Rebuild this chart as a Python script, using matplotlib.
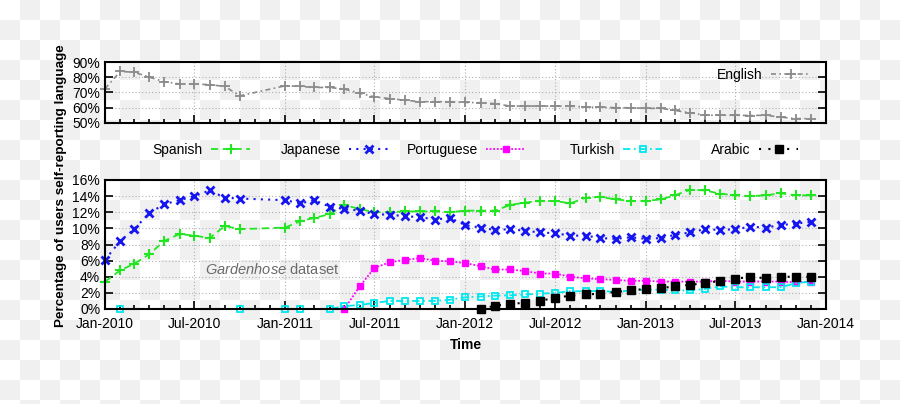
import numpy as np
import pandas as pd
import matplotlib
matplotlib.use("Agg")
import matplotlib.pyplot as plt
import matplotlib.dates as mdates
from matplotlib.ticker import MultipleLocator, FormatStrFormatter

plt.rcParams['font.family'] = ['Liberation Sans', 'DejaVu Sans']
plt.rcParams['mathtext.fontset'] = 'custom'
plt.rcParams['mathtext.it'] = 'Liberation Sans:italic'
plt.rcParams['mathtext.rm'] = 'Liberation Sans'

nan = np.nan
months = pd.date_range('2010-01-01', periods=48, freq='MS')

# monthly share (%) of users self-reporting each language
english = [72.5, 83.8, 83.3, 80.0, 77.1, 75.6, 75.6, 75.1, 74.0, 67.8, nan, nan,
           74.4, 74.0, 73.3, 73.3, 72.2, 69.6, 67.1, 66.0, 64.9, 64.0, 64.0, 63.8,
           63.5, 63.3, 62.7, 61.1, 61.1, 61.1, 61.1, 61.1, 60.4, 60.4, 60.0, 60.0,
           59.6, 59.6, 58.2, 56.7, 55.1, 55.1, 55.1, 54.9, 55.1, 53.8, 52.9, 52.9]
spanish = [3.4, 4.8, 5.6, 6.8, 8.45, 9.3, 9.1, 8.8, 10.3, 9.9, nan, nan,
           10.1, 10.9, 11.3, 11.75, 12.9, 12.4, 12.0, 12.0, 12.1, 12.1, 12.1, 12.0,
           12.2, 12.2, 12.2, 12.9, 13.2, 13.4, 13.4, 13.1, 13.8, 13.9, 13.6, 13.4,
           13.4, 13.6, 14.1, 14.8, 14.7, 14.3, 14.1, 14.0, 14.1, 14.35, 14.1, 14.1]
japanese = [6.1, 8.45, 9.9, 11.9, 13.0, 13.5, 14.0, 14.7, 13.8, 13.7, nan, nan,
            13.5, 13.1, 13.5, 12.7, 12.4, 12.2, 11.75, 11.7, 11.5, 11.4, 11.1, 11.3,
            10.4, 10.1, 9.8, 9.9, 9.7, 9.5, 9.4, 9.1, 9.1, 8.8, 8.7, 8.9,
            8.7, 8.8, 9.2, 9.5, 9.9, 9.8, 9.9, 10.2, 10.1, 10.4, 10.6, 10.8]
portuguese = [nan] * 16 + [
              0.0, 2.8, 5.1, 5.8, 6.1, 6.3, 6.0, 5.9,
              5.7, 5.3, 4.9, 4.9, 4.7, 4.4, 4.4, 4.0, 3.8, 3.7, 3.6, 3.5,
              3.5, 3.4, 3.4, 3.4, 3.4, 3.5, 3.4, 3.4, 3.4, 3.4, 3.3, 3.4]
turkish = [nan, 0.0, nan, nan, nan, nan, nan, nan, nan, 0.0, nan, nan,
           0.0, 0.0, nan, 0.0, 0.35, 0.5, 0.75, 1.0, 1.0, 1.0, 1.0, 1.15,
           1.45, 1.55, 1.65, 1.7, 1.8, 1.9, 2.0, 2.2, 2.2, 2.25, 2.1, 2.3,
           2.4, 2.4, 2.3, 2.3, 2.5, 2.8, 2.7, 2.7, 2.7, 2.7, 3.2, 3.4]
arabic = [nan] * 25 + [
          0.0, 0.4, 0.6, 0.8, 1.0, 1.4, 1.65, 1.8, 1.9, 2.1, 2.3,
          2.5, 2.6, 2.8, 3.0, 3.2, 3.5, 3.75, 4.0, 3.8, 4.0, 4.0, 4.0]

fig = plt.figure(figsize=(9, 4.04), dpi=100)

# transparent-background checkerboard seen in the reference
ckx = np.arange(900) // 20
cky = np.arange(404) // 20
board = np.where((ckx[None, :] + cky[:, None]) % 2 == 1, 0.94, 1.0)
fig.figimage(board, xo=0, yo=0, origin='upper', cmap='gray', vmin=0, vmax=1, zorder=-10)

ax1 = fig.add_axes([105 / 900, 1 - 123 / 404, 721 / 900, 61 / 404])
ax2 = fig.add_axes([105 / 900, 1 - 309 / 404, 721 / 900, 129 / 404])


def series(ax, vals, label, **kw):
    v = np.array(vals, dtype=float)
    ok = ~np.isnan(v)
    return ax.plot(months[ok], v[ok], label=label, clip_on=False, **kw)[0]


h_en = series(ax1, english, 'English', color='#8a8a8a', lw=1.2,
              ls=(0, (3, 2, 1, 2)), marker='+', ms=6.5, mew=1.3)
h_es = series(ax2, spanish, 'Spanish', color='#22e622', lw=1.3,
              ls=(0, (4, 2.5)), marker='+', ms=6.5, mew=1.5)
h_ja = series(ax2, japanese, 'Japanese', color='#1515f0', lw=1.5,
              ls=(0, (1, 2.5)), marker='x', ms=5.5, mew=2)
h_pt = series(ax2, portuguese, 'Portuguese', color='#ff00ff', lw=1.3,
              ls=(0, (1, 1)), marker='s', ms=5, mew=1)
h_tr = series(ax2, turkish, 'Turkish', color='#00e8ee', lw=1.3,
              ls=(0, (4, 2, 1, 2)), marker='s', ms=5, mew=1.3, mfc='none')
h_ar = series(ax2, arabic, 'Arabic', color='black', lw=1.5,
              ls=(0, (1, 3.5)), marker='s', ms=5.5)

start = pd.Timestamp('2010-01-01')
end = pd.Timestamp('2014-01-01')
for ax in (ax1, ax2):
    ax.set_facecolor('none')
    ax.set_xlim(start, end)
    ax.xaxis.set_major_locator(mdates.MonthLocator(bymonth=[1, 7]))
    ax.xaxis.set_minor_locator(mdates.MonthLocator())
    ax.xaxis.set_major_formatter(mdates.DateFormatter('%b-%Y'))
    ax.yaxis.set_major_formatter(FormatStrFormatter('%d%%'))
    ax.grid(True, which='major', color='#b0b0b0', ls=(0, (1, 2)), lw=0.8)
    ax.tick_params(which='both', direction='in', right=True, top=False,
                   labelsize=10, width=1.2)
    ax.tick_params(which='major', length=6)
    ax.tick_params(which='minor', length=3)
    ax.tick_params(axis='x', pad=6)
    for s in ax.spines.values():
        s.set_linewidth(1.5)

ax1.set_ylim(50, 90)
ax1.yaxis.set_major_locator(MultipleLocator(10))
ax1.tick_params(labelbottom=False)

ax2.set_ylim(0, 16)
ax2.yaxis.set_major_locator(MultipleLocator(2))
ax2.set_xlabel('Time', fontsize=10, fontweight='bold', labelpad=5)

ax2.text(0.232, 0.31, r'$\it{Gardenhose}$ dataset', transform=ax2.transAxes,
         ha='center', va='center', color='#6a6a6a', fontsize=10.5)

fig.text(0.068, 0.54, 'Percentage of users self-reporting language',
         rotation=90, ha='center', va='center', fontsize=9.7, fontweight='bold')

# gnuplot style keys: text right-justified, sample after it
ax1.legend(handles=[h_en], loc='center right', bbox_to_anchor=(810 / 900, 1 - 75 / 404),
           bbox_transform=fig.transFigure, frameon=False, markerfirst=False,
           borderpad=0, borderaxespad=0, handlelength=2.8, handletextpad=0.6,
           fontsize=10)
key_right = [250, 388, 525, 662, 798]
for h, xr in zip([h_es, h_ja, h_pt, h_tr, h_ar], key_right):
    fig.legend(handles=[h], loc='center right', bbox_to_anchor=(xr / 900, 1 - 150 / 404),
               frameon=False, markerfirst=False, borderpad=0, borderaxespad=0,
               handlelength=2.8, handletextpad=0.6, fontsize=10)

fig.savefig('out.png', dpi=100)
